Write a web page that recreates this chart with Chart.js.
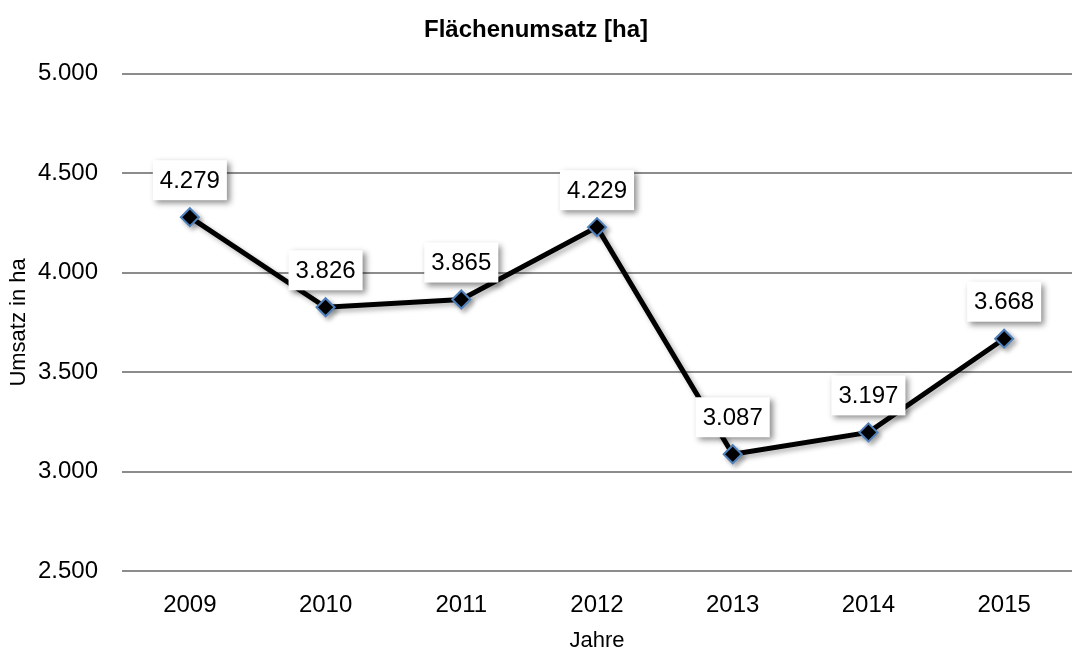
<!doctype html>
<html lang="de">
<head>
<meta charset="utf-8">
<title>Flächenumsatz [ha]</title>
<script src="https://cdn.jsdelivr.net/npm/chart.js@4"></script>
<style>
  html, body { margin: 0; padding: 0; background: #fff; overflow: hidden; }
  #wrap { width: 1072px; height: 654px; }
</style>
</head>
<body>
<div id="wrap"><canvas id="c" width="1072" height="654"></canvas></div>
<script>
// Daten aus der Vorlage
const years = ['2009', '2010', '2011', '2012', '2013', '2014', '2015'];
const umsatz = [4279, 3826, 3865, 4229, 3087, 3197, 3668];
const yTicks = [2500, 3000, 3500, 4000, 4500, 5000];

const FONT = '"Liberation Sans Narrow", "Liberation Sans", Arial, sans-serif';
const fmt = v => v.toLocaleString('de-DE');

// Schatten für Linie + Marker
const shadowPlugin = {
  id: 'shadow',
  beforeDatasetDraw(chart) {
    const ctx = chart.ctx;
    ctx.save();
    ctx.shadowColor = 'rgba(0,0,0,0.3)';
    ctx.shadowBlur = 5;
    ctx.shadowOffsetX = 3;
    ctx.shadowOffsetY = 3;
  },
  afterDatasetDraw(chart) { chart.ctx.restore(); }
};

// Weiße Wertekästchen über den Punkten
const labelPlugin = {
  id: 'boxLabels',
  afterDatasetsDraw(chart) {
    const ctx = chart.ctx;
    const meta = chart.getDatasetMeta(0);
    ctx.save();
    ctx.font = '24px ' + FONT;
    ctx.textAlign = 'center';
    ctx.textBaseline = 'middle';
    meta.data.forEach((pt, i) => {
      const txt = fmt(umsatz[i]);
      const w = ctx.measureText(txt).width + 14;
      const h = 40;
      const x = pt.x - w / 2;
      const y = pt.y - 17 - h;
      ctx.save();
      ctx.shadowColor = 'rgba(0,0,0,0.45)';
      ctx.shadowBlur = 6;
      ctx.shadowOffsetX = 3;
      ctx.shadowOffsetY = 3;
      ctx.fillStyle = '#fff';
      ctx.fillRect(x, y, w, h);
      ctx.restore();
      ctx.fillStyle = '#000';
      ctx.fillText(txt, pt.x, y + h / 2 + 1);
    });
    ctx.restore();
  }
};

new Chart(document.getElementById('c'), {
  type: 'line',
  data: {
    labels: years,
    datasets: [{
      data: umsatz,
      borderColor: '#000',
      borderWidth: 5,
      tension: 0,
      pointStyle: 'rectRot',
      pointRadius: 9,
      pointHoverRadius: 9,
      pointBackgroundColor: '#000',
      pointBorderColor: '#4f81bd',
      pointBorderWidth: 2
    }]
  },
  options: {
    responsive: false,
    animation: false,
    events: [],
    layout: { autoPadding: false, padding: 0 },
    plugins: {
      legend: { display: false },
      tooltip: { enabled: false },
      title: {
        display: true,
        text: 'Flächenumsatz [ha]',
        color: '#000',
        font: { family: FONT, size: 24, weight: 'bold' },
        padding: { top: 16, bottom: 29 }
      }
    },
    scales: {
      x: {
        offset: true,
        grid: { display: false, drawTicks: false },
        border: { display: false },
        ticks: { color: '#000', font: { family: FONT, size: 24 }, padding: 20 },
        title: {
          display: true, text: 'Jahre', color: '#000',
          font: { family: FONT, size: 22 }, padding: { top: 6, bottom: 0 }
        },
        afterFit(s) { s.height = 83; s.paddingLeft = 0; s.paddingRight = 0; }
      },
      y: {
        min: 2500,
        max: 5000,
        afterBuildTicks(s) { s.ticks = yTicks.map(v => ({ value: v })); },
        grid: { color: '#8c8c8c', lineWidth: 2, drawTicks: false },
        border: { display: false },
        ticks: { color: '#000', font: { family: FONT, size: 24 }, padding: 24, callback: v => fmt(v) },
        title: {
          display: true, text: 'Umsatz in ha', color: '#000',
          font: { family: FONT, size: 22 }, padding: { top: 6, bottom: 0 }
        },
        afterFit(s) { s.width = 122; s.paddingTop = 0; s.paddingBottom = 0; }
      }
    }
  },
  plugins: [shadowPlugin, labelPlugin]
});
</script>
</body>
</html>
